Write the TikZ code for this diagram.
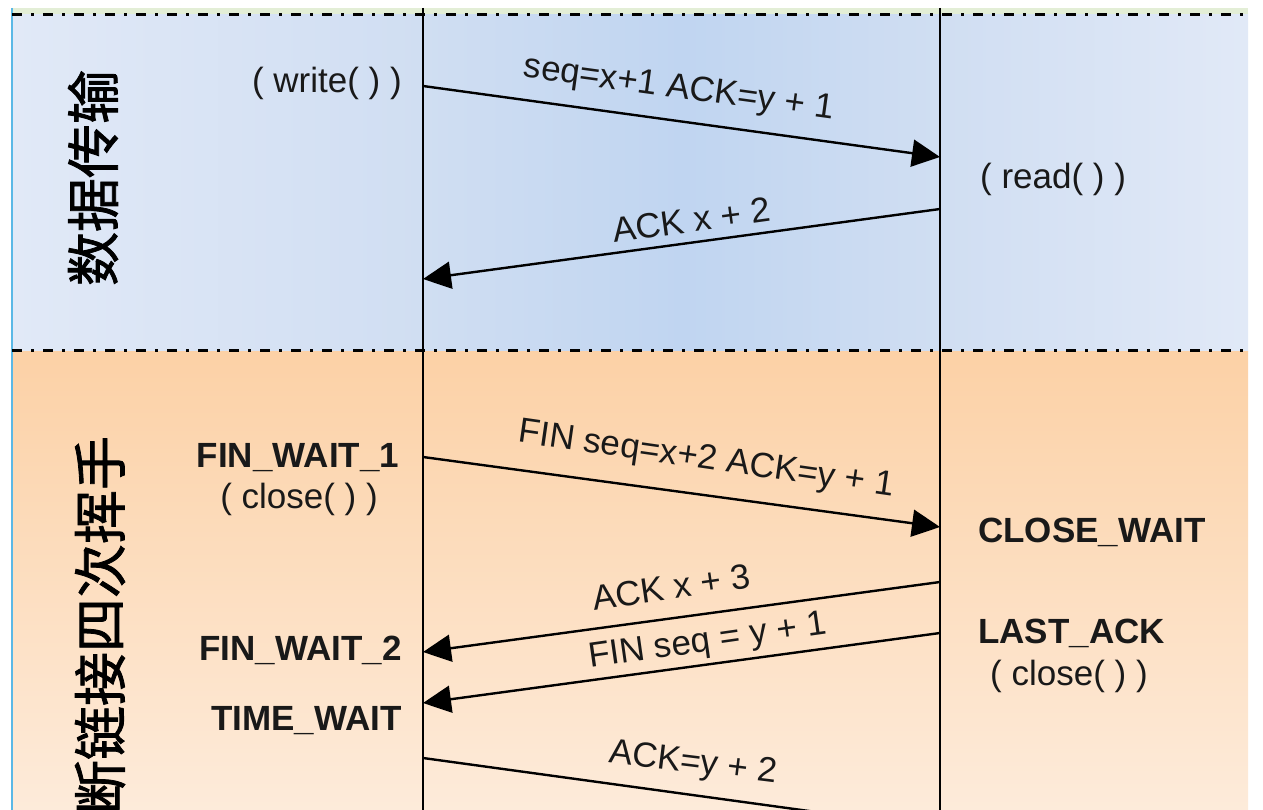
\documentclass[tikz,border=0pt]{standalone}
\usepackage{fontspec}
\setmainfont{Liberation Sans}
\newfontfamily\cjk[FakeBold=1.5]{Noto Sans CJK SC}
\usetikzlibrary{arrows.meta}

\definecolor{bandgreen}{HTML}{E3EED6}
\definecolor{edgecyan}{HTML}{5AB8E6}
\definecolor{bluelight}{HTML}{E1E9F7}
\definecolor{blueside}{HTML}{D0DEF2}
\definecolor{bluemid}{HTML}{C0D5F1}
\definecolor{peachtop}{HTML}{FCD1A6}
\definecolor{peachbot}{HTML}{FDEBDA}

\begin{document}
\begin{tikzpicture}[x=1pt,y=-1pt,
  lifeline/.style={line width=2.4pt, black},
  phaseline/.style={line width=3pt, black, dash pattern=on 10pt off 9pt on 3pt off 9pt},
  msg/.style={line width=2.4pt, black, -{Triangle[length=28pt,width=27pt]}},
  lbl/.style={font=\fontsize{35}{38}\selectfont, inner sep=0pt, anchor=base, text=black!90},
  state/.style={font=\bfseries\fontsize{35}{38}\selectfont, inner sep=0pt, text=black!90},
  phasetitle/.style={font=\cjk\fontsize{54}{54}\selectfont, rotate=90, inner sep=0pt}
]
\useasboundingbox (0,0) rectangle (1263,810);
\begin{scope}
\clip (0,0) rectangle (1263,810);

% data transfer band
\shade[left color=bluelight, right color=blueside] (12,14) rectangle (423,351);
\shade[left color=blueside, right color=blueside, middle color=bluemid] (423,14) rectangle (940,351);
\shade[left color=blueside, right color=bluelight] (940,14) rectangle (1248,351);

% connection release band
\shade[top color=peachtop, bottom color=peachbot] (12,351) rectangle (1248,810);

% top strip and left edge
\fill[bandgreen] (12,8) rectangle (1248,14);
\draw[edgecyan, line width=1.5pt] (12,8) -- (12,810);

% phase separators
\coordinate (sepTL) at (12,15);
\coordinate (sepTR) at (1248,15);
\coordinate (sepML) at (12,350);
\coordinate (sepMR) at (1248,350);
\draw[phaseline] (sepTL) -- (sepTR);
\draw[phaseline] (sepML) -- (sepMR);

% lifelines
\coordinate (cliTop) at (423,8);
\coordinate (cliBot) at (423,812);
\coordinate (srvTop) at (940,8);
\coordinate (srvBot) at (940,812);
\draw[lifeline] (cliTop) -- (cliBot);
\draw[lifeline] (srvTop) -- (srvBot);

% message end points
\coordinate (m1s) at (423,86);  \coordinate (m1e) at (940,157);
\coordinate (m2s) at (940,209); \coordinate (m2e) at (423,279);
\coordinate (m3s) at (423,457); \coordinate (m3e) at (940,527);
\coordinate (m4s) at (940,582); \coordinate (m4e) at (423,652);
\coordinate (m5s) at (940,633); \coordinate (m5e) at (423,703);
\coordinate (m6s) at (423,758); \coordinate (m6e) at (940,829);

\draw[msg] (m1s) -- (m1e);
\draw[msg] (m2s) -- (m2e);
\draw[msg] (m3s) -- (m3e);
\draw[msg] (m4s) -- (m4e);
\draw[msg] (m5s) -- (m5e);
\draw[msg] (m6s) -- (m6e);

% message labels
\node[lbl, rotate=-7.8] (t1) at (678,98) {seq=x+1 ACK=y + 1};
\node[lbl, rotate=7.7] (t2) at (693,232) {ACK x + 2};
\node[lbl, rotate=-8.2] (t3) at (705,469) {FIN seq=x+2 ACK=y + 1};
\node[lbl, rotate=8.3] (t4) at (673,599) {ACK x + 3};
\node[lbl, rotate=8.1] (t5) at (709,651) {FIN seq = y + 1};
\node[lbl, rotate=-7] (t6) at (692,773) {ACK=y + 2};

% calls and states
\node[lbl, anchor=base east] (write) at (402,93) {( write( ) )};
\node[lbl, anchor=base west] (read) at (980,189) {( read( ) )};
\node[state, anchor=base] (fw1) at (298,467) {FIN\_WAIT\_1};
\node[lbl, anchor=base] (cclose) at (299,508) {( close( ) )};
\node[state, anchor=base east] (fw2) at (402,660) {FIN\_WAIT\_2};
\node[state, anchor=base east] (tw) at (402,730) {TIME\_WAIT};
\node[state, anchor=base west] (cw) at (978,542) {CLOSE\_WAIT};
\node[state, anchor=base west] (la) at (978,643) {LAST\_ACK};
\node[lbl, anchor=base west] (sclose) at (990,685) {( close( ) )};

% phase titles
\node[phasetitle] (p1) at (93,178) {数据传输};
\node[phasetitle] (p2) at (100,625) {断链接四次挥手};
\end{scope}
\end{tikzpicture}
\end{document}
